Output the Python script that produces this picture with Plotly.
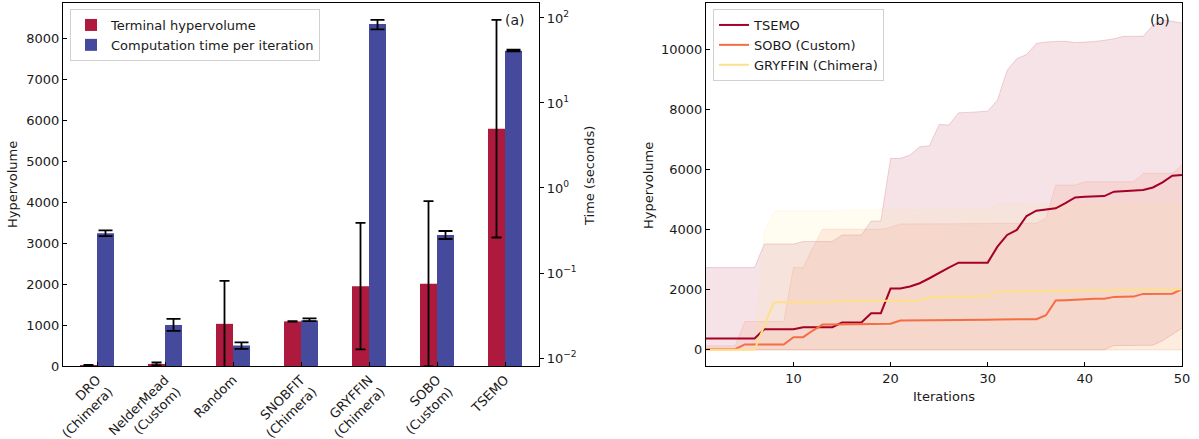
import plotly.graph_objects as go

# ---------------- data: panel (a) ----------------
categories = ["DRO<br>(Chimera)", "NelderMead<br>(Custom)", "Random", "SNOBFIT<br>(Chimera)",
              "GRYFFIN<br>(Chimera)", "SOBO<br>(Custom)", "TSEMO"]
hv_mean = [15, 50, 1030, 1090, 1950, 2010, 5800]
hv_err = [10, 35, 1050, 8, 1545, 2020, 2660]
time_mean = [0.293, 0.0244, 0.0140, 0.0277, 85.0, 0.280, 41.2]
time_err_plus = [0.025, 0.0044, 0.0013, 0.0015, 9.7, 0.032, 1.3]
time_err_minus = [0.021, 0.0036, 0.0012, 0.0005, 11.4, 0.029, 0.7]
time_tickvals = [0.01, 0.1, 1, 10, 100]
time_ticktext = ["10<sup>−2</sup>", "10<sup>−1</sup>", "10<sup>0</sup>", "10<sup>1</sup>", "10<sup>2</sup>"]

# ---------------- data: panel (b) ----------------
iterations = list(range(1, 51))
tsemo_mean = [375, 375, 375, 375, 375, 375, 680, 680, 680, 680, 753, 753, 753, 753, 908, 908, 908,
              1218, 1218, 2037, 2037, 2104, 2215, 2380, 2568, 2735, 2900, 2900, 2900, 2900, 3430,
              3820, 3990, 4450, 4630, 4670, 4706, 4880, 5070, 5090, 5100, 5116, 5260, 5280, 5300,
              5316, 5400, 5570, 5790, 5820]
tsemo_upper = [2735, 2735, 2735, 2735, 2735, 2735, 3520, 3520, 3520, 3520, 3600, 3600, 3600, 3600,
               3820, 3820, 3820, 4285, 4285, 6370, 6370, 6478, 6755, 6790, 7497, 7480, 7884, 7900,
               7920, 7940, 8306, 9302, 9690, 9823, 10189, 10244, 10260, 10266, 10222, 10230, 10260,
               10300, 10350, 10432, 10432, 10432, 10797, 10985, 10930, 10875]
tsemo_lower = [0] * 42 + [140, 140, 140, 140, 150, 300, 520, 720]

sobo_mean = [20, 20, 20, 20, 177, 177, 177, 177, 177, 420, 420, 640, 840, 840, 845, 850, 850, 855,
             860, 864, 975, 975, 975, 980, 980, 985, 990, 995, 1000, 1000, 1005, 1010, 1010, 1015,
             1019, 1150, 1640, 1650, 1670, 1690, 1700, 1700, 1760, 1765, 1770, 1860, 1860, 1860,
             1865, 2020]
sobo_upper = [130, 130, 130, 130, 940, 940, 940, 940, 940, 2735, 2735, 3400, 4010, 4010, 4010, 4010,
              4010, 4010, 4010, 4076, 4186, 4186, 4186, 4186, 4186, 4208, 4208, 4208, 4208, 4208,
              4208, 4208, 4208, 4208, 4208, 4375, 5480, 5480, 5480, 5590, 5590, 5590, 5590, 5590,
              5590, 5870, 5870, 5870, 5870, 6150]
sobo_lower = [0] * 50

gryffin_mean = [0, 0, 0, 0, 0, 0, 800, 1585, 1585, 1585, 1585, 1585, 1585, 1590, 1628, 1630, 1630,
                1630, 1630, 1630, 1630, 1630, 1630, 1750, 1750, 1760, 1765, 1770, 1770, 1771, 1938,
                1940, 1940, 1940, 1945, 1950, 1950, 1955, 1960, 1970, 1975, 1975, 1980, 1985, 1985,
                1990, 1990, 1990, 1995, 2010]
gryffin_upper = [0, 0, 0, 0, 0, 0, 3900, 4620, 4620, 4620, 4620, 4620, 4620, 4620, 4650, 4650, 4650,
                 4650, 4650, 4650, 4650, 4650, 4650, 4684, 4684, 4684, 4684, 4684, 4684, 4684, 4840,
                 4840, 4840, 4840, 4840, 4840, 4840, 4840, 4840, 4840, 4840, 4840, 4840, 4840, 4840,
                 4850, 4850, 4850, 4860, 4870]
gryffin_lower = [0] * 50
hv_ticks = [0, 2000, 4000, 6000, 8000, 10000]

RED = "#ad1a3d"
BLUE = "#454a9d"
FONT = "DejaVu Sans"
TXT = "#1a1a1a"

fig = go.Figure()
idx = list(range(len(categories)))

fig.add_trace(go.Bar(
    x=idx, y=hv_mean, width=0.25, offset=-0.25, marker=dict(color=RED, line=dict(width=0)),
    error_y=dict(type="data", array=hv_err, color="black", thickness=1.8, width=5),
    name="Terminal hypervolume", xaxis="x", yaxis="y", legend="legend"))
fig.add_trace(go.Bar(
    x=idx, y=time_mean, width=0.25, offset=0.0, marker=dict(color=BLUE, line=dict(width=0)),
    error_y=dict(type="data", symmetric=False, array=time_err_plus, arrayminus=time_err_minus,
                 color="black", thickness=1.8, width=7),
    name="Computation time per iteration", xaxis="x", yaxis="y2", legend="legend"))

series = [
    ("TSEMO", tsemo_mean, tsemo_lower, tsemo_upper, "#a50026", (165, 0, 38)),
    ("SOBO (Custom)", sobo_mean, sobo_lower, sobo_upper, "#f46d43", (244, 109, 67)),
    ("GRYFFIN (Chimera)", gryffin_mean, gryffin_lower, gryffin_upper, "#fee08b", (254, 224, 139)),
]
for name, m, lo, hi, col, rgb in series:
    fill = "rgba(%d,%d,%d,0.11)" % rgb
    edge = "rgba(%d,%d,%d,0.16)" % rgb
    fig.add_trace(go.Scatter(x=iterations, y=lo, mode="lines", line=dict(color=edge, width=1),
                             showlegend=False, hoverinfo="skip", xaxis="x2", yaxis="y3"))
    fig.add_trace(go.Scatter(x=iterations, y=hi, mode="lines", line=dict(color=edge, width=1),
                             fill="tonexty", fillcolor=fill, showlegend=False, hoverinfo="skip",
                             xaxis="x2", yaxis="y3"))
for name, m, lo, hi, col, rgb in series:
    fig.add_trace(go.Scatter(x=iterations, y=m, mode="lines", line=dict(color=col, width=2),
                             name=name, xaxis="x2", yaxis="y3", legend="legend2"))

axis_common = dict(showline=True, linecolor="black", linewidth=1.2, showgrid=False, zeroline=False,
                   tickfont=dict(family=FONT, size=13, color=TXT), tickcolor="black", ticklen=4,
                   automargin=False)

L = 63
W = 1199 - 63 - 17
H = 439 - 3 - 73
def px(x):
    return (x - L) / W
def py(y):
    return 1 - (y - 3) / H

def label(text, x, y, angle=0, size=13):
    return dict(text=text, x=px(x), y=py(y), xref="paper", yref="paper", showarrow=False,
                xanchor="center", yanchor="middle", textangle=angle, font=dict(size=size))

fig.update_layout(
    width=1199, height=439, margin=dict(l=63, r=17, t=3, b=73, autoexpand=False),
    paper_bgcolor="white", plot_bgcolor="white", barmode="overlay",
    font=dict(family=FONT, size=13, color=TXT),
    xaxis=dict(domain=[0, px(539)], range=[-0.5, 6.5], tickvals=idx, ticktext=categories,
               tickangle=-45, ticks="inside", mirror=True, anchor="y", **axis_common),
    yaxis=dict(domain=[0, 1], range=[0, 8870], dtick=1000, ticks="inside", anchor="x",
               **axis_common),
    yaxis2=dict(overlaying="y", side="right", anchor="x", type="log", range=[-2.094, 2.176],
                tickvals=time_tickvals, ticktext=time_ticktext, ticks="outside", **axis_common),
    xaxis2=dict(domain=[px(706), 1], range=[1, 50], tickvals=[10, 20, 30, 40, 50], ticks="inside",
                mirror=True, anchor="y3", **axis_common),
    yaxis3=dict(domain=[0, 1], range=[-540, 11540], tickvals=hv_ticks,
                ticktext=[str(v) for v in hv_ticks], ticks="inside", mirror=True, anchor="x2",
                **axis_common),
    legend=dict(x=px(70), y=py(9), xanchor="left", yanchor="top", bgcolor="white",
                traceorder="normal",
                bordercolor="#d0d0d0", borderwidth=1, font=dict(family=FONT, size=13, color=TXT)),
    legend2=dict(x=px(713), y=py(9), xanchor="left", yanchor="top", bgcolor="white",
                 traceorder="normal",
                 bordercolor="#d0d0d0", borderwidth=1, font=dict(family=FONT, size=13, color=TXT)),
    annotations=[
        label("(a)", 515, 20, size=14),
        label("(b)", 1160, 20, size=14),
        label("Hypervolume", 13, 185, angle=-90),
        label("Time (seconds)", 589, 176, angle=-90),
        label("Hypervolume", 648, 186, angle=-90),
        label("Iterations", 944, 396),
    ],
)

fig.write_html("out.html")
